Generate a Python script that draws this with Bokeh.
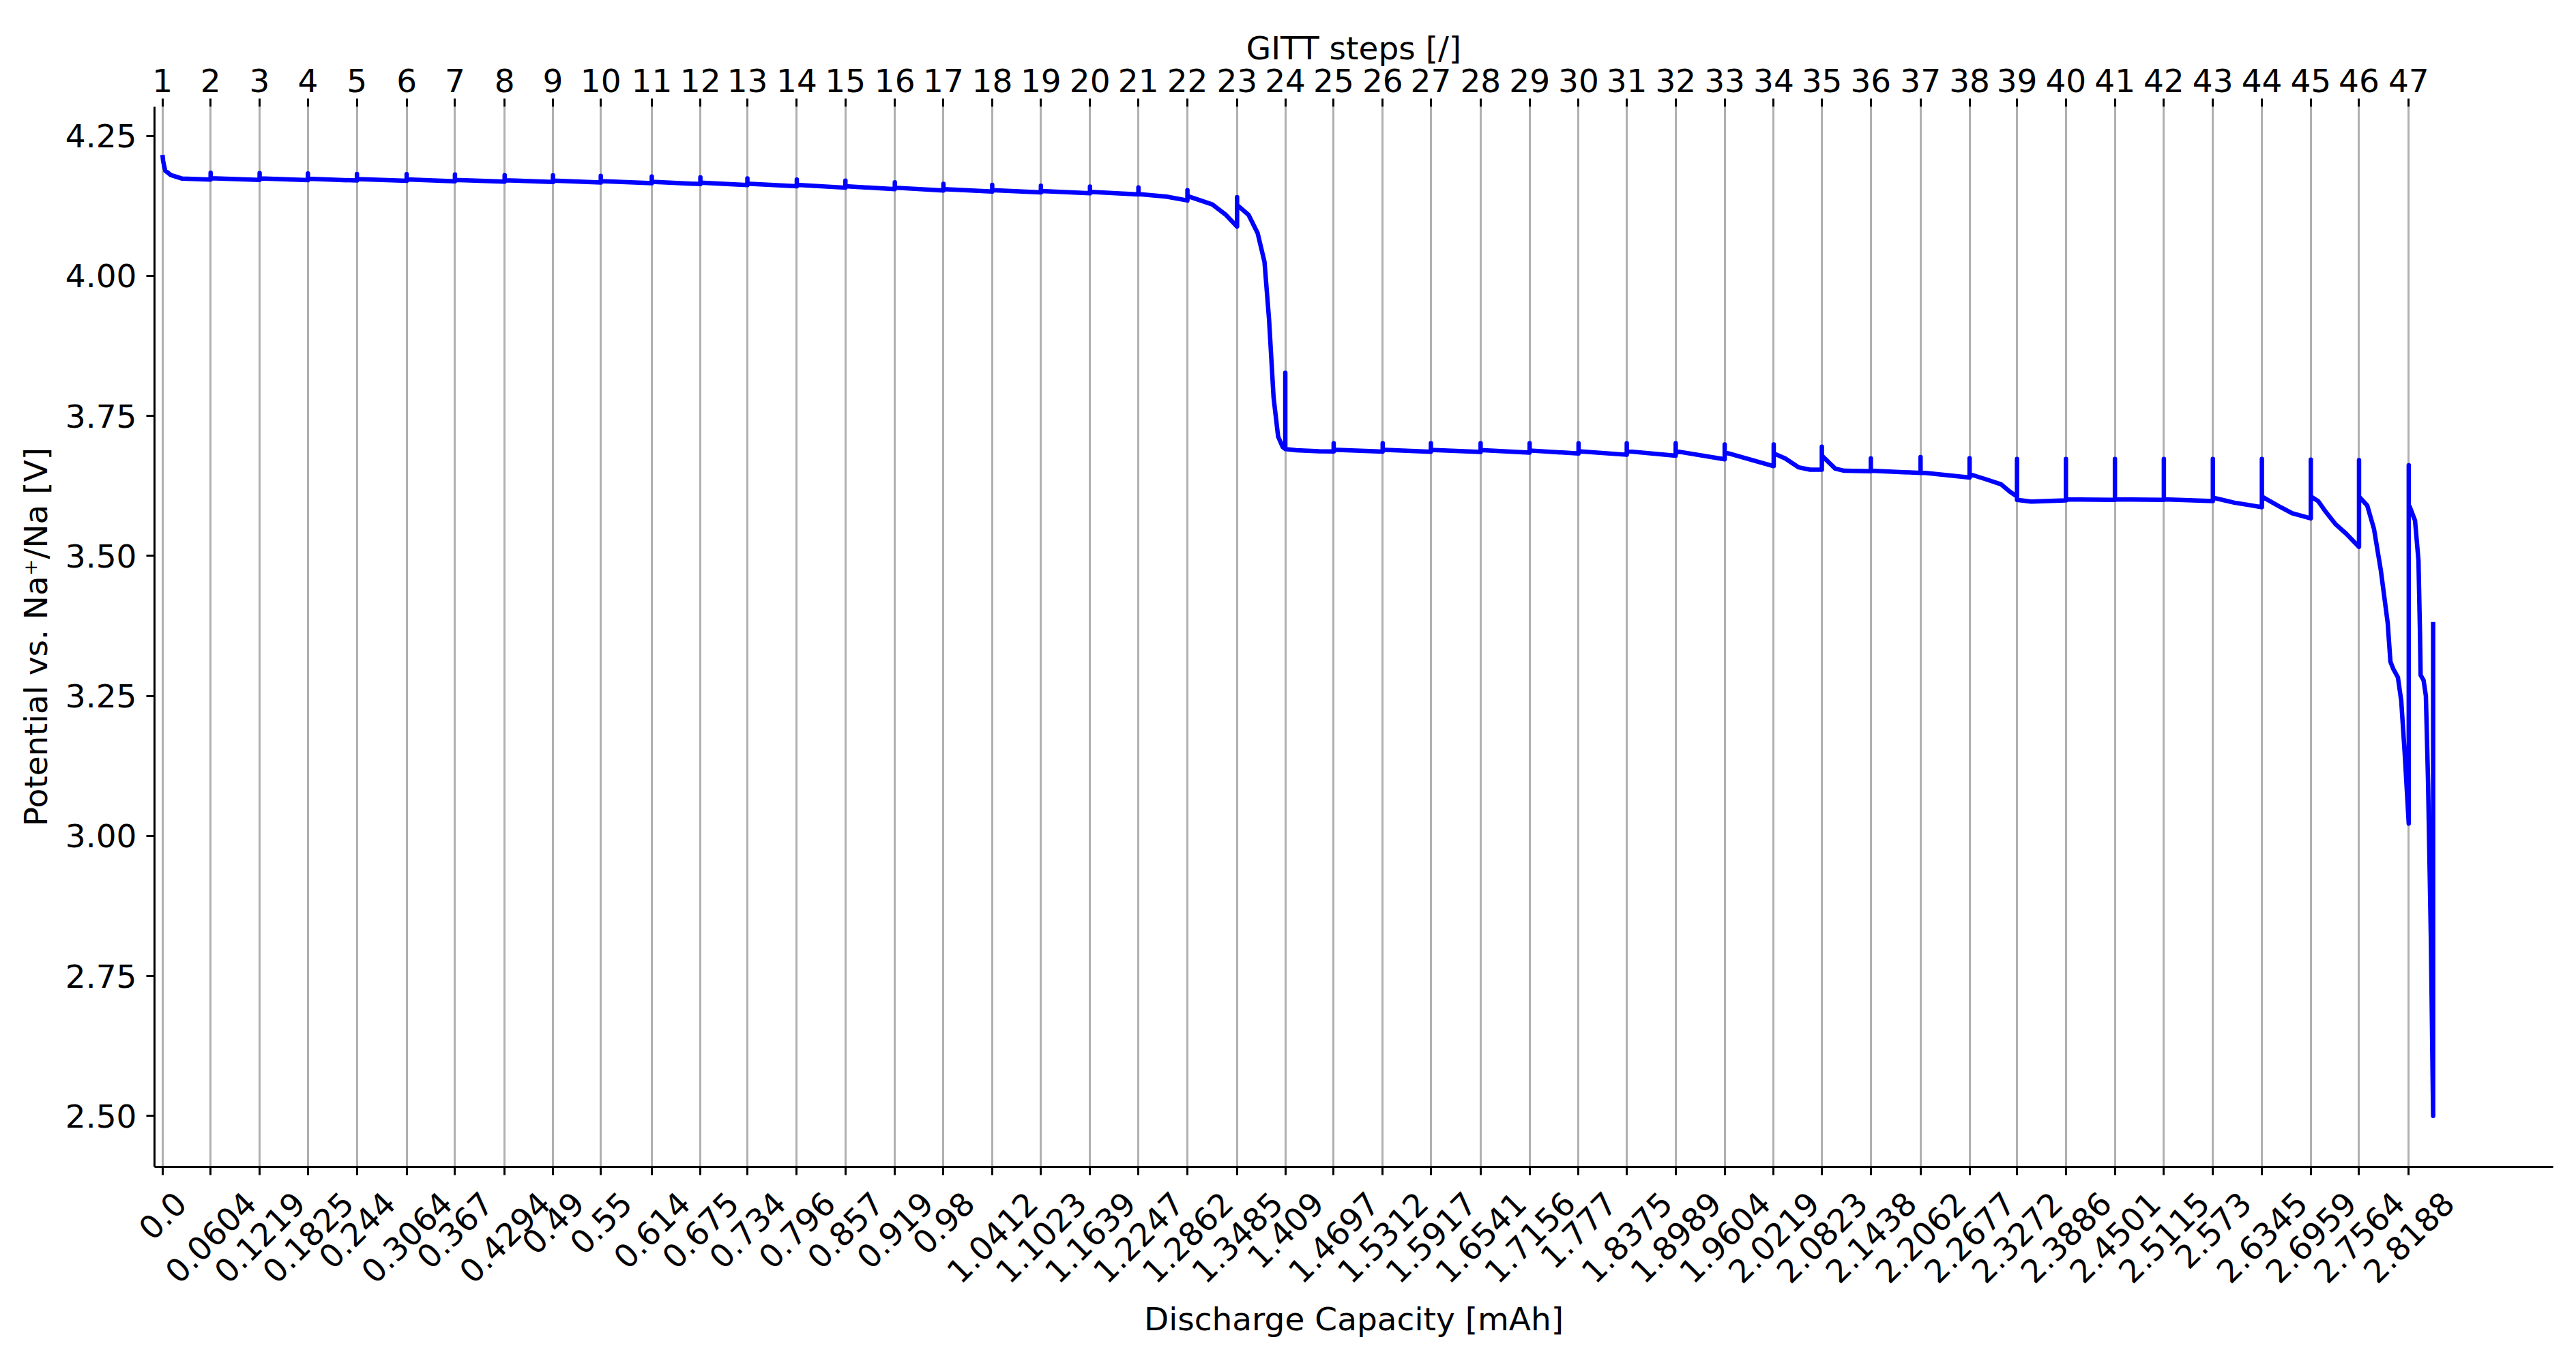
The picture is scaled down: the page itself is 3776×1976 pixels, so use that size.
from math import pi
from bokeh.plotting import figure
from bokeh.layouts import column, row
from bokeh.models import Range1d, FixedTicker, PrintfTickFormatter, LinearAxis, CustomJSTickFormatter
from bokeh.core.properties import value
from bokeh.embed import file_html
from bokeh.resources import INLINE

# ---------------- data ----------------
cap_labels = ["0.0", "0.0604", "0.1219", "0.1825", "0.244", "0.3064", "0.367", "0.4294",
              "0.49", "0.55", "0.614", "0.675", "0.734", "0.796", "0.857", "0.919", "0.98",
              "1.0412", "1.1023", "1.1639", "1.2247", "1.2862", "1.3485", "1.409", "1.4697",
              "1.5312", "1.5917", "1.6541", "1.7156", "1.777", "1.8375", "1.8989", "1.9604",
              "2.0219", "2.0823", "2.1438", "2.2062", "2.2677", "2.3272", "2.3886", "2.4501",
              "2.5115", "2.573", "2.6345", "2.6959", "2.7564", "2.8188"]
step_caps = [float(s) for s in cap_labels]
step_numbers = [1, 2, 3, 4, 5, 6, 7, 8, 9, 10, 11, 12, 13, 14, 15, 16, 17, 18, 19, 20,
                21, 22, 23, 24, 25, 26, 27, 28, 29, 30, 31, 32, 33, 34, 35, 36, 37, 38,
                39, 40, 41, 42, 43, 44, 45, 46, 47]
y_ticks = [2.50, 2.75, 3.00, 3.25, 3.50, 3.75, 4.00, 4.25]

final_cap = 2.8494  # capacity at the end of the last pulse

# voltage at the start of each pulse (after the IR drop)
pulse_start_v = [4.216, 4.1745, 4.174, 4.1735, 4.1728, 4.1722, 4.1715, 4.1708, 4.170, 4.1692,
                 4.168, 4.1665, 4.1647, 4.1625, 4.160, 4.1575, 4.155, 4.153, 4.1515, 4.150,
                 4.146, 4.1425, 4.1267, 3.6907, 3.6896, 3.6896, 3.6893, 3.689, 3.6882, 3.6868,
                 3.687, 3.687, 3.685, 3.683, 3.679, 3.652, 3.649, 3.646, 3.600, 3.601,
                 3.601, 3.601, 3.604, 3.606, 3.606, 3.606, 3.590]
# voltage at the end of each pulse
pulse_end_v = [4.172, 4.1715, 4.171, 4.1703, 4.1697, 4.169, 4.1683, 4.1676, 4.1667, 4.1655,
               4.164, 4.1622, 4.160, 4.1575, 4.155, 4.1525, 4.1505, 4.149, 4.1475, 4.1455,
               4.1346, 4.088, 3.691, 3.6866, 3.6863, 3.686, 3.6855, 3.6845, 3.6828, 3.6806,
               3.679, 3.6725, 3.6603, 3.654, 3.6513, 3.6481, 3.640, 3.606, 3.599, 3.600,
               3.600, 3.598, 3.587, 3.567, 3.516, 3.022, 2.500]
# relaxed voltage reached after each pulse
relax_top_v = [4.184, 4.1835, 4.183, 4.182, 4.1817, 4.181, 4.180, 4.1796, 4.1787, 4.1775,
               4.176, 4.174, 4.172, 4.170, 4.167, 4.1645, 4.1625, 4.161, 4.1595, 4.158,
               4.153, 4.1407, 3.827, 3.701, 3.701, 3.701, 3.701, 3.701, 3.701, 3.701,
               3.701, 3.699, 3.699, 3.695, 3.674, 3.6765, 3.6745, 3.673, 3.673, 3.673,
               3.673, 3.673, 3.673, 3.672, 3.671, 3.662, 3.382]
# intermediate points inside curved pulses
mid_step = [1, 1, 1, 1,
            21,
            22, 22,
            23, 23, 23, 23, 23, 23, 23,
            24, 24,
            34, 34, 34,
            35, 35,
            38, 38, 38,
            39,
            43,
            44, 44,
            45, 45, 45, 45,
            46, 46, 46, 46, 46, 46, 46, 46, 46,
            47, 47, 47, 47, 47, 47, 47, 47, 47]
mid_cap = [0.0008, 0.0034, 0.0105, 0.0248,
           1.26,
           1.3173, 1.3344,
           1.3629, 1.3743, 1.3829, 1.3886, 1.3943, 1.4000, 1.4058,
           1.4228, 1.451,
           2.0363, 2.0534, 2.0676,
           2.099, 2.1104,
           2.290, 2.307, 2.318,
           2.345,
           2.60,
           2.658, 2.6725,
           2.705, 2.715, 2.7267, 2.740,
           2.7667, 2.7752, 2.7838, 2.7924, 2.7958, 2.7995, 2.8052, 2.8094, 2.8137,
           2.8200, 2.8267, 2.8310, 2.8329, 2.8337, 2.8374, 2.8403, 2.8431, 2.8466]
mid_volt = [4.205, 4.188, 4.180, 4.1737,
            4.1415,
            4.1276, 4.109,
            4.109, 4.0764, 4.025, 3.9226, 3.7828, 3.713, 3.6943,
            3.6887, 3.6868,
            3.674, 3.658, 3.654,
            3.656, 3.652,
            3.636, 3.628, 3.615,
            3.597,
            3.595,
            3.587, 3.576,
            3.598, 3.578, 3.557, 3.540,
            3.590, 3.548, 3.474, 3.380, 3.311, 3.298, 3.283, 3.241, 3.148,
            3.588, 3.563, 3.492, 3.362, 3.287, 3.278, 3.250, 3.092, 2.812]

# ---------------- build the GITT curve from the step data ----------------
cap_pts, volt_pts = [], []
n_steps = len(step_numbers)
for k in range(n_steps):
    x0 = step_caps[k]
    x1 = step_caps[k + 1] if k < n_steps - 1 else final_cap
    cap_pts.append(x0)
    volt_pts.append(pulse_start_v[k])
    for s, c, v in zip(mid_step, mid_cap, mid_volt):
        if s == k + 1:
            cap_pts.append(c)
            volt_pts.append(v)
    cap_pts.append(x1)
    volt_pts.append(pulse_end_v[k])
    cap_pts.append(x1)
    volt_pts.append(relax_top_v[k])

# ---------------- layout (page pixels) ----------------
FONT = "DejaVu Sans"
FS = 47
W, H = 3768, 1968
FRAME_L, FRAME_R, FRAME_T, FRAME_B = 226, 3742, 156, 1710
X0, X1 = -0.010, 3.0
Y0, Y1 = 2.409, 4.302
PPU = (FRAME_R - FRAME_L) / (X1 - X0)

MAIN_BB = 16
MAIN_H = FRAME_B + MAIN_BB
BOT_H = H - MAIN_H          # strip holding the rotated capacity labels

# ---------------- main plot ----------------
p = figure(width=W, height=MAIN_H, output_backend="svg", toolbar_location=None,
           x_range=Range1d(X0, X1), y_range=Range1d(Y0, Y1),
           min_border_left=FRAME_L, min_border_right=W - FRAME_R,
           min_border_top=FRAME_T, min_border_bottom=MAIN_BB)
p.outline_line_color = None
p.background_fill_color = "white"
p.border_fill_color = "white"

cap_ticker = FixedTicker(ticks=step_caps)
blank = CustomJSTickFormatter(code="return ''")
step_formatter = CustomJSTickFormatter(
    args=dict(caps=step_caps, names=[str(n) for n in step_numbers]),
    code="""
    let best = 0, bd = Infinity;
    for (let i = 0; i < caps.length; i++) {
        const d = Math.abs(caps[i] - tick);
        if (d < bd) { bd = d; best = i; }
    }
    return names[best];
    """)

p.xgrid.ticker = cap_ticker
p.xgrid.grid_line_color = "#b0b0b0"
p.xgrid.grid_line_width = 3
p.ygrid.visible = False

p.line(cap_pts, volt_pts, line_color="#0000ff", line_width=6.5, line_join="round")

ya = p.yaxis[0]
ya.ticker = FixedTicker(ticks=y_ticks)
ya.formatter = PrintfTickFormatter(format="%.2f")
ya.major_label_text_font = FONT
ya.major_label_text_font_size = f"{FS}px"
ya.major_label_text_color = "black"
ya.major_label_standoff = 14
ya.axis_label = "Potential vs. Na\u207a/Na [V]"
ya.axis_label_text_font = FONT
ya.axis_label_text_font_size = f"{FS}px"
ya.axis_label_text_font_style = "normal"
ya.axis_label_text_color = "black"
ya.axis_label_standoff = 13
ya.axis_line_width = 3
ya.axis_line_color = "black"
ya.major_tick_line_width = 3
ya.major_tick_line_color = "black"
ya.major_tick_out = 12
ya.major_tick_in = 0
ya.minor_tick_line_color = None

xa = p.xaxis[0]
xa.ticker = cap_ticker
xa.formatter = blank
xa.major_label_text_font_size = "1px"
xa.major_label_standoff = 0
xa.axis_line_width = 3
xa.axis_line_color = "black"
xa.major_tick_line_width = 3
xa.major_tick_line_color = "black"
xa.major_tick_out = 12
xa.major_tick_in = 0
xa.minor_tick_line_color = None

# top axis: GITT step numbers at the step capacities, no spine
ta = LinearAxis(ticker=cap_ticker, formatter=step_formatter, axis_label="GITT steps [/]")
ta.major_label_text_font = FONT
ta.major_label_text_font_size = f"{FS}px"
ta.major_label_text_color = "black"
ta.major_label_standoff = 10
ta.axis_label_text_font = FONT
ta.axis_label_text_font_size = f"{FS}px"
ta.axis_label_text_font_style = "normal"
ta.axis_label_text_color = "black"
ta.axis_label_standoff = 0
ta.axis_line_color = None
ta.major_tick_line_width = 3
ta.major_tick_line_color = "black"
ta.major_tick_out = 12
ta.major_tick_in = 0
ta.minor_tick_line_color = None
p.add_layout(ta, "above")

# ---------------- bottom strip: rotated capacity labels + title ----------------
full_x = Range1d(X0 - FRAME_L / PPU, X1 + (W - FRAME_R) / PPU)
bot = figure(width=W, height=BOT_H, output_backend="svg", toolbar_location=None,
             x_range=full_x, y_range=Range1d(0, BOT_H), x_axis_type=None, y_axis_type=None,
             min_border=0)
bot.outline_line_color = None
bot.background_fill_color = "white"
bot.border_fill_color = "white"


def adv_em(s):
    return sum(0.636 if ch.isdigit() else 0.318 for ch in s)


bot_y = []
for s in cap_labels:
    w_ink = (adv_em(s) - 0.12) * FS
    h_ink = 0.729 * FS
    centre_page_y = 1745 + (w_ink + h_ink) * 0.35355
    bot_y.append(H - centre_page_y)

bot.text(x=step_caps, y=bot_y, text=cap_labels, angle=pi / 4,
         text_font=value(FONT), text_font_size=value(f"{FS}px"), text_color="black",
         text_align="center", text_baseline="middle")
bot.text(x=[(X0 + X1) / 2], y=[H - 1933], text=["Discharge Capacity [mAh]"],
         text_font=value(FONT), text_font_size=value(f"{FS}px"), text_color="black",
         text_align="center", text_baseline="alphabetic")

# wrap the main plot in a row so that the column does not align the two frames
layout = column(row(p), row(bot))
open("out.html", "w").write(file_html(layout, INLINE, title="GITT"))
